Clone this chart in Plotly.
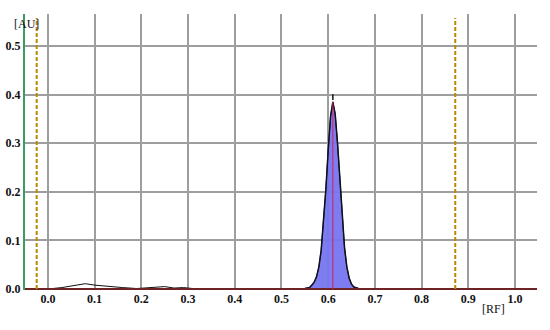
import plotly.graph_objects as go

# densitogram trace
rf = [-0.049, -0.02, 0.0, 0.03, 0.06, 0.08, 0.10, 0.13, 0.16, 0.19, 0.21, 0.23, 0.25, 0.27, 0.29,
      0.31, 0.33, 0.36, 0.40, 0.45, 0.50, 0.53, 0.55, 0.56, 0.565, 0.57, 0.575, 0.58, 0.585,
      0.59, 0.595, 0.60, 0.605, 0.61, 0.615, 0.62, 0.625, 0.63, 0.635, 0.64, 0.645, 0.65,
      0.655, 0.665, 0.70, 0.75, 0.80, 0.85, 0.90, 0.95, 1.0, 1.047]
au = [0.0, 0.0, 0.0, 0.003, 0.007, 0.011, 0.008, 0.005, 0.003, 0.001, 0.002, 0.004, 0.005, 0.002, 0.003,
      0.001, 0.001, 0.0, 0.001, 0.0, 0.001, 0.0, 0.001, 0.003, 0.008, 0.014, 0.025, 0.045, 0.080,
      0.135, 0.205, 0.285, 0.355, 0.385, 0.360, 0.300, 0.220, 0.145, 0.085, 0.045, 0.022, 0.010,
      0.004, 0.001, 0.0, 0.0, 0.0, 0.0, 0.0, 0.0, 0.0, 0.0]

peak_start, peak_end = 0.55, 0.665
peak_rf = 0.61
peak_top = 0.395
front_lines = [-0.024, 0.872]

x_ticks = [0.0, 0.1, 0.2, 0.3, 0.4, 0.5, 0.6, 0.7, 0.8, 0.9, 1.0]
y_ticks = [0.0, 0.1, 0.2, 0.3, 0.4, 0.5]

font = dict(family="Liberation Serif, Times New Roman, serif", size=12, color="#111111")

fig = go.Figure()

# filled peak
px = [x for x in rf if peak_start <= x <= peak_end]
py = [y for x, y in zip(rf, au) if peak_start <= x <= peak_end]
fig.add_trace(go.Scatter(
    x=px, y=py, mode="lines", fill="tozeroy",
    fillcolor="rgba(118,118,240,0.95)",
    line=dict(color="#14143c", width=1.5),
    hoverinfo="skip", showlegend=False,
))

# whole trace
fig.add_trace(go.Scatter(
    x=rf, y=au, mode="lines",
    line=dict(color="#111111", width=1),
    hoverinfo="skip", showlegend=False,
))

# baseline
fig.add_trace(go.Scatter(
    x=[rf[0], rf[-1]], y=[0, 0], mode="lines",
    line=dict(color="#6e2424", width=2),
    hoverinfo="skip", showlegend=False,
))

# peak max line and marker
fig.add_trace(go.Scatter(
    x=[peak_rf, peak_rf], y=[0, max(au)], mode="lines",
    line=dict(color="#d0205a", width=1),
    hoverinfo="skip", showlegend=False,
))
fig.add_trace(go.Scatter(
    x=[peak_rf], y=[peak_top], mode="markers",
    marker=dict(symbol="line-ns", size=4, line=dict(color="#111111", width=1.5)),
    hoverinfo="skip", showlegend=False,
))

# start / front lines
for xv in front_lines:
    fig.add_shape(type="line", x0=xv, x1=xv, y0=0, y1=0.558,
                  line=dict(color="#b88a00", width=2, dash="4px,2px"))

fig.add_annotation(text="[AU]", xref="paper", yref="paper", x=0.0, y=1.0,
                   xanchor="center", yanchor="middle", xshift=1, yshift=-10,
                   showarrow=False, font=dict(family=font["family"], size=12, color="#111111"))
fig.add_annotation(text="[RF]", xref="x", yref="paper", x=0.953, y=0,
                   xanchor="center", yanchor="top", yshift=-10,
                   showarrow=False, font=dict(family=font["family"], size=12, color="#111111"))

fig.update_layout(
    width=550, height=330,
    paper_bgcolor="white", plot_bgcolor="white",
    margin=dict(l=25, r=13, t=14, b=40),
    font=font,
    xaxis=dict(
        range=[-0.049, 1.047], tickvals=x_ticks,
        ticktext=[f"<b>{v:.1f}</b>" for v in x_ticks],
        showgrid=True, gridcolor="#9e9e9e", gridwidth=1.5,
        zeroline=False, showline=False, ticks="", ticklen=0,
        automargin=False,
    ),
    yaxis=dict(
        range=[-0.002, 0.566], tickvals=y_ticks,
        ticktext=[f"<b>{v:.1f}</b>" for v in y_ticks],
        showgrid=True, gridcolor="#9e9e9e", gridwidth=1.5,
        zeroline=False, showline=True, linecolor="#3e9a5e", linewidth=2,
        ticks="", ticklen=0, automargin=False,
    ),
)

# drop the page's default body margin so the 550x330 figure sits at 0,0
fig.write_html("out.html", config={"displayModeBar": False},
               post_script="document.body.style.margin='0';")
